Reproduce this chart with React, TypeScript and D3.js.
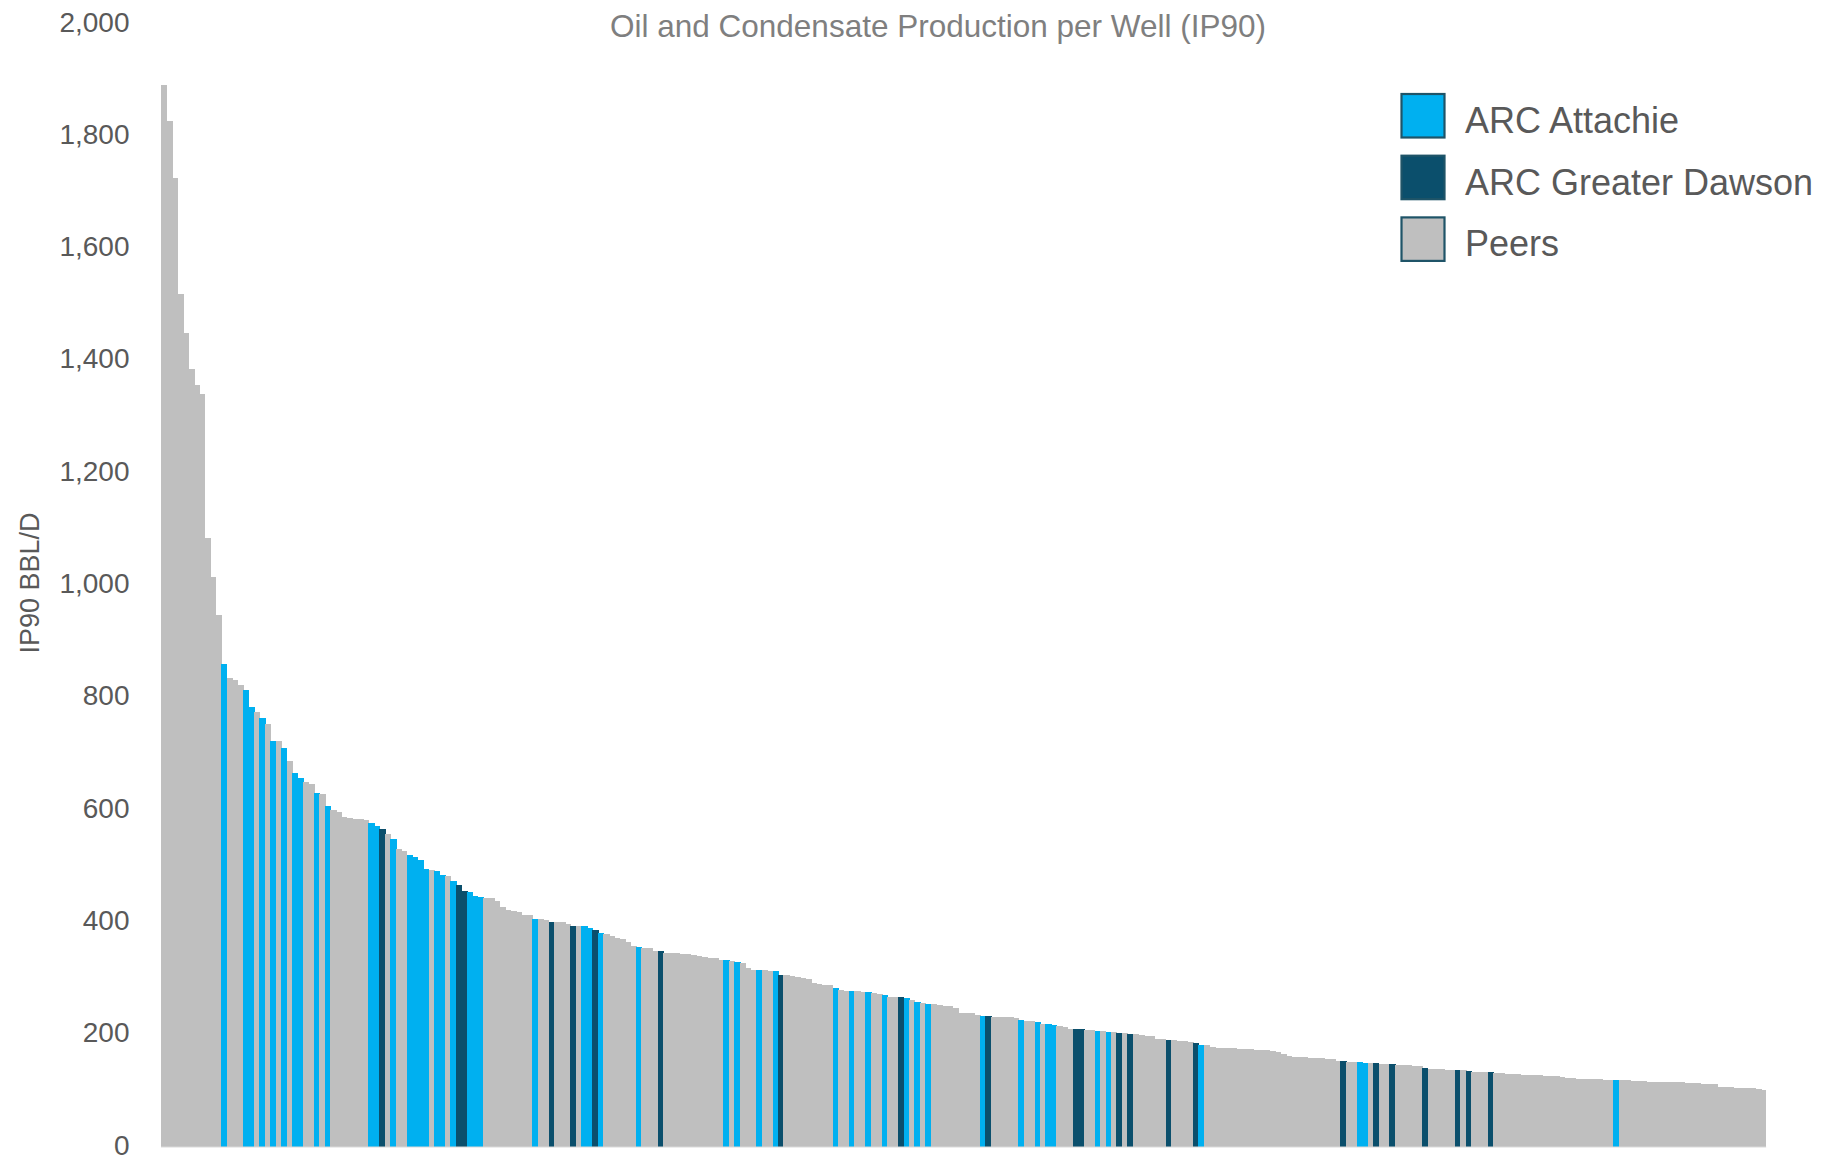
import * as d3 from "d3";
import { useEffect, useRef } from "react";

// IP90 oil + condensate per well, sorted high to low (bbl/d)
const wellValues: number[] = [
  1890, 1826, 1724, 1519, 1449, 1385, 1357, 1341, 1084, 1015, 946,
  859, 834, 831, 822, 813, 782, 773, 763, 753, 723, 722, 709, 687, 666, 656,
  650, 646, 629, 627, 606, 600, 596, 586, 585, 584, 583, 581, 576, 571, 565,
  557, 548, 530, 526, 519, 516, 511, 494, 492, 491, 484, 481, 473, 465, 455,
  453, 447, 445, 442, 442, 437, 427, 422, 420, 417, 413, 412, 406, 405, 403,
  400, 400, 399, 396, 393, 393, 393, 389, 386, 381, 378, 375, 372, 369, 365,
  357, 355, 354, 353, 349, 348, 345, 345, 344, 343, 342, 341, 339, 337, 336,
  335, 333, 332, 331, 328, 326, 318, 315, 314, 314, 313, 312, 306, 305, 303,
  302, 300, 299, 292, 290, 287, 287, 282, 279, 277, 277, 277, 276, 275, 273,
  272, 270, 267, 266, 266, 264, 261, 257, 256, 254, 253, 252, 251, 250, 247,
  238, 237, 237, 234, 232, 232, 231, 231, 230, 230, 229, 225, 224, 223, 221,
  219, 218, 216, 215, 213, 210, 210, 209, 207, 207, 206, 205, 204, 204, 203,
  202, 200, 200, 199, 197, 196, 192, 191, 190, 190, 188, 187, 186, 185, 181,
  180, 177, 176, 176, 175, 175, 174, 174, 173, 172, 172, 171, 170, 169, 164,
  161, 160, 160, 159, 158, 158, 157, 156, 155, 152, 152, 151, 150, 150, 149,
  148, 148, 147, 147, 147, 146, 146, 145, 144, 143, 139, 138, 138, 138, 137,
  137, 136, 136, 135, 133, 133, 132, 132, 131, 131, 130, 129, 129, 128, 128,
  127, 127, 126, 126, 125, 124, 122, 122, 121, 121, 120, 120, 120, 119, 119,
  119, 118, 118, 117, 116, 116, 115, 115, 115, 114, 114, 114, 114, 113, 113,
  113, 112, 112, 111, 106, 106, 106, 105, 105, 105, 104, 103, 100,
];

// which operator each well belongs to, same order as wellValues
// A = ARC Attachie, G = ARC Greater Dawson, P = Peers
const wellGroups: string =
  "PPPPPPPPPPP" +
  "APPPAAPAPAPAPAAPPAPAPPPPPPPAAGPAPPAAAAPAAPAGGAAA" +
  "PPPPPPPPPAPPGPPPGPAAGAPPPPPPAPPPGPPPPPPPPPPPAPAPPPAPPAGPPPPPPPPP" +
  "APPAPPAPPAPPGAPAPAPPPPPPPPPAGPPPPPAPPAPAAPPPGGPPAPAPGPGPPPPPPGPPPPGA" +
  "PPPPPPPPPPPPPPPPPPPPPPPPPGPPAAPGPPGPPPPPGPPPPPGPGPPPGPPPPPPPPPPPPPPPPPPPPPPA" +
  "PPPPPPPPPPPPPPPPPPPPPPPPPPP";

const legendNames = ["ARC Attachie", "ARC Greater Dawson", "Peers"];
const legendKeys = ["A", "G", "P"];
const groupColors: Record<string, string> = {
  A: "#00B0F0",
  G: "#0B4F6C",
  P: "#BFBFBF",
};

const yTicks = [0, 200, 400, 600, 800, 1000, 1200, 1400, 1600, 1800, 2000];

const chartTitle = "Oil and Condensate Production per Well (IP90)";
const yAxisTitle = "IP90 BBL/D";

export default function App() {
  const svgRef = useRef<SVGSVGElement>(null);

  useEffect(() => {
    if (!svgRef.current) return;
    const svg = d3.select(svgRef.current);
    svg.selectAll("*").remove();

    const font = "'Liberation Sans', Arial, sans-serif";

    const data = wellValues.map((v, i) => ({
      i,
      value: v,
      group: wellGroups[i] || "P",
    }));

    const x = d3
      .scaleBand<number>()
      .domain(data.map((d) => d.i))
      .range([161, 1766.2])
      .padding(0);

    const y = d3.scaleLinear().domain([0, 2000]).range([1146.5, 23.5]);

    // bars (slight overlap so no seams show between neighbours)
    svg
      .append("g")
      .attr("shape-rendering", "crispEdges")
      .selectAll("rect")
      .data(data)
      .enter()
      .append("rect")
      .attr("x", (d) => x(d.i)!)
      .attr("y", (d) => y(d.value))
      .attr("width", (d) =>
        d.i === data.length - 1 ? x.bandwidth() : x.bandwidth() + 0.8
      )
      .attr("height", (d) => y(0) - y(d.value))
      .attr("fill", (d) => groupColors[d.group]);

    // faint baseline
    svg
      .append("line")
      .attr("x1", 161)
      .attr("x2", 1766.2)
      .attr("y1", y(0) + 0.5)
      .attr("y2", y(0) + 0.5)
      .attr("stroke", "#D9D9D9")
      .attr("stroke-width", 1);

    // y tick labels
    const fmt = d3.format(",");
    svg
      .append("g")
      .selectAll("text")
      .data(yTicks)
      .enter()
      .append("text")
      .attr("x", 129.5)
      .attr("y", (d) => y(d) - 2)
      .attr("dy", "0.36em")
      .attr("text-anchor", "end")
      .style("font-family", font)
      .style("font-size", "28px")
      .style("fill", "#595959")
      .text((d) => fmt(d));

    // y axis title
    svg
      .append("text")
      .attr("transform", "translate(39,583) rotate(-90)")
      .attr("text-anchor", "middle")
      .style("font-family", font)
      .style("font-size", "27px")
      .style("fill", "#595959")
      .text(yAxisTitle);

    // chart title
    svg
      .append("text")
      .attr("x", 938)
      .attr("y", 37)
      .attr("text-anchor", "middle")
      .style("font-family", font)
      .style("font-size", "31.5px")
      .style("fill", "#7F7F7F")
      .text(chartTitle);

    // legend
    const legend = svg
      .append("g")
      .selectAll("g")
      .data(legendNames)
      .enter()
      .append("g")
      .attr("transform", (_, i) => `translate(0,${i * 61.7})`);

    legend
      .append("rect")
      .attr("x", 1401.5)
      .attr("y", 94)
      .attr("width", 43)
      .attr("height", 43.5)
      .attr("fill", (_, i) => groupColors[legendKeys[i]])
      .attr("stroke", "#1F5468")
      .attr("stroke-width", 2.2);

    legend
      .append("text")
      .attr("x", 1465)
      .attr("y", 133)
      .style("font-family", font)
      .style("font-size", "36px")
      .style("fill", "#595959")
      .text((d) => d);
  }, []);

  return (
    <svg
      ref={svgRef}
      width={1821}
      height={1156}
      style={{ position: "absolute", left: 0, top: 0, background: "#fff" }}
    />
  );
}
